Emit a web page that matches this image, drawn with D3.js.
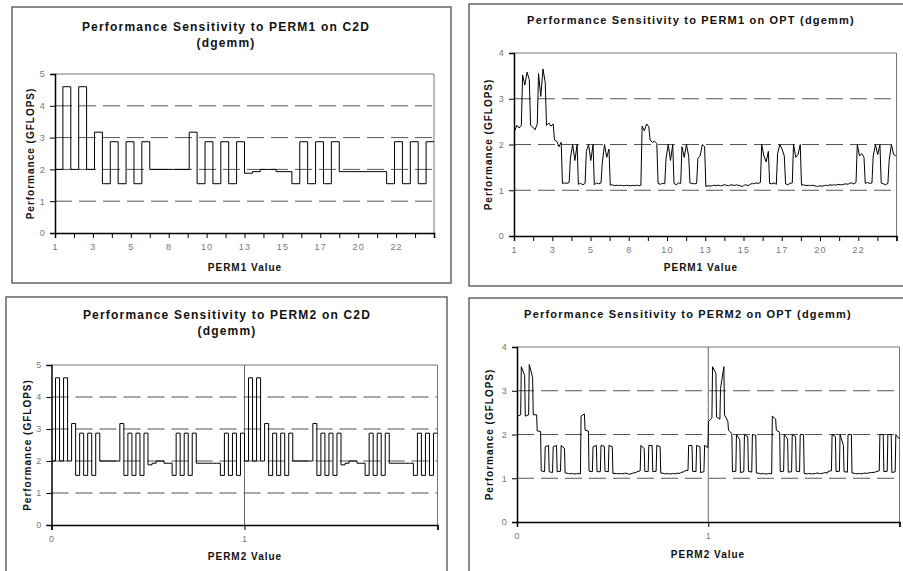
<!DOCTYPE html>
<html>
<head>
<meta charset="utf-8">
<script src="https://cdn.jsdelivr.net/npm/d3@7/dist/d3.min.js"></script>
<style>
body { margin: 0; background: #fff; }
svg { display: block; font-family: "Liberation Sans", Arial, sans-serif; }
.title { font-weight: bold; font-size: 12px; letter-spacing: 1.2px; fill: #111; }
.axis-title { font-weight: bold; font-size: 10px; letter-spacing: 1px; fill: #111; }
.tick text { font-size: 9px; letter-spacing: 1.2px; fill: #777; font-family: "Liberation Sans", Arial, sans-serif; }
</style>
</head>
<body>
<svg id="chart" width="903" height="571"></svg>
<script>
// tick labels
var perm1Labels = ['1', '3', '5', '8', '10', '13', '15', '17', '20', '22'];
var perm2Labels = ['0', '1'];
var c2dTicks = [0, 1, 2, 3, 4, 5];
var optTicks = [0, 1, 2, 3, 4];

// GFLOPS per half block of PERM1 (C2D)
var perm1C2D = [2.0, 4.6, 2.0, 4.6, 2.0, 3.17, 1.55, 2.87, 1.55, 2.87, 1.55, 2.87,
	2.0, 2.0, 2.0, 2.0, 2.0, 3.17, 1.55, 2.87, 1.55, 2.87, 1.55, 2.87,
	1.88, 1.93, 2.0, 2.0, 1.93, 1.93, 1.55, 2.87, 1.55, 2.87, 1.55, 2.87,
	1.93, 1.93, 1.93, 1.93, 1.93, 1.93, 1.55, 2.87, 1.55, 2.87, 1.55, 2.87];

// GFLOPS, 4 samples per half block of PERM1 (OPT)
var perm1OPT = [
	2.30, 2.42, 2.36, 2.42,  3.52, 3.30, 3.58, 3.42,  2.42, 2.38, 2.32, 2.45,  3.55, 3.05, 3.65, 3.35,
	2.42, 2.47, 2.40, 2.45,  2.10, 2.07, 1.95, 2.05,  1.15, 1.16, 1.15, 1.17,  1.70, 2.00, 1.65, 2.00,
	1.13, 1.15, 1.12, 1.15,  1.85, 2.00, 1.65, 2.00,  1.12, 1.16, 1.14, 1.16,  1.60, 2.00, 1.72, 1.90,
	1.11, 1.12, 1.10, 1.11,  1.10, 1.11, 1.10, 1.10,  1.11, 1.10, 1.10, 1.11,  1.10, 1.11, 1.10, 1.11,
	2.40, 2.30, 2.45, 2.38,  2.10, 2.05, 2.07, 2.02,  1.15, 1.13, 1.15, 1.14,  1.70, 2.00, 1.65, 2.00,
	1.15, 1.12, 1.16, 1.15,  1.95, 1.72, 2.00, 1.75,  1.16, 1.15, 1.14, 1.15,  1.70, 1.75, 2.00, 1.95,
	1.08, 1.10, 1.09, 1.10,  1.11, 1.10, 1.11, 1.10,  1.10, 1.12, 1.11, 1.10,  1.11, 1.12, 1.10, 1.12,
	1.11, 1.10, 1.08, 1.11,  1.12, 1.10, 1.13, 1.15,  1.14, 1.16, 1.15, 1.17,  2.00, 1.75, 1.62, 1.85,
	1.15, 1.14, 1.16, 1.13,  1.80, 2.00, 1.90, 1.75,  1.14, 1.12, 1.15, 1.16,  2.00, 1.72, 1.78, 2.00,
	1.11, 1.12, 1.10, 1.11,  1.10, 1.11, 1.10, 1.09,  1.08, 1.10, 1.09, 1.10,  1.11, 1.10, 1.12, 1.11,
	1.12, 1.11, 1.13, 1.12,  1.12, 1.13, 1.14, 1.13,  1.15, 1.16, 1.14, 1.17,  2.00, 1.75, 1.80, 1.72,
	1.15, 1.17, 1.15, 1.16,  1.75, 2.00, 1.78, 2.00,  1.16, 1.14, 1.12, 1.15,  1.65, 2.00, 1.78, 1.75];

// GFLOPS per step along PERM2 (C2D), PERM2 = 0 then PERM2 = 1
var perm2C2D = [2.0, 4.6, 2.0, 4.6, 2.0, 3.17, 1.55, 2.87, 1.55, 2.87, 1.55, 2.87,
	2.0, 2.0, 2.0, 2.0, 2.0, 3.17, 1.55, 2.87, 1.55, 2.87, 1.55, 2.87,
	1.88, 1.93, 2.0, 2.0, 1.93, 1.93, 1.55, 2.87, 1.55, 2.87, 1.55, 2.87,
	1.93, 1.93, 1.93, 1.93, 1.93, 1.93, 1.55, 2.87, 1.55, 2.87, 1.55, 2.87,
	2.0, 4.6, 2.0, 4.6, 2.0, 3.17, 1.55, 2.87, 1.55, 2.87, 1.55, 2.87,
	2.0, 2.0, 2.0, 2.0, 2.0, 3.17, 1.55, 2.87, 1.55, 2.87, 1.55, 2.87,
	1.88, 1.93, 2.0, 2.0, 1.93, 1.93, 1.55, 2.87, 1.55, 2.87, 1.55, 2.87,
	1.93, 1.93, 1.93, 1.93, 1.93, 1.93, 1.55, 2.87, 1.55, 2.87, 1.55, 2.87];

// GFLOPS, 2 samples per step along PERM2 (OPT)
var perm2OPT = [
	2.42, 2.45,  3.55, 3.35,  2.42, 2.45,  3.60, 3.30,  2.45, 2.45,  2.08, 2.07,  1.17, 1.15,  1.72, 1.75,
	1.15, 1.13,  1.72, 1.75,  1.15, 1.16,  1.75, 1.68,  1.12, 1.11,  1.10, 1.11,  1.10, 1.10,  1.11, 1.10,
	2.42, 2.47,  2.10, 2.08,  1.16, 1.15,  1.72, 1.75,  1.15, 1.15,  1.75, 1.73,  1.16, 1.15,  1.75, 1.72,
	1.11, 1.11,  1.10, 1.11,  1.10, 1.11,  1.12, 1.10,  1.09, 1.11,  1.12, 1.13,  1.15, 1.17,  1.75, 1.68,
	1.16, 1.15,  1.75, 1.75,  1.15, 1.16,  1.75, 1.72,  1.12, 1.11,  1.10, 1.11,  1.10, 1.10,  1.11, 1.10,
	1.12, 1.11,  1.13, 1.15,  1.17, 1.18,  1.75, 1.75,  1.16, 1.15,  1.75, 1.72,  1.13, 1.15,  1.75, 1.70,
	2.30, 2.38,  3.55, 3.40,  2.40, 2.35,  3.05, 3.55,  2.45, 2.30,  2.10, 2.02,  1.15, 1.16,  2.00, 1.88,
	1.13, 1.15,  2.00, 1.95,  1.16, 1.14,  2.00, 1.98,  1.12, 1.11,  1.10, 1.11,  1.10, 1.10,  1.11, 1.10,
	2.42, 2.35,  2.10, 2.05,  1.15, 1.16,  2.00, 1.90,  1.14, 1.15,  2.00, 1.95,  1.16, 1.15,  2.00, 2.00,
	1.11, 1.10,  1.11, 1.10,  1.10, 1.11,  1.12, 1.11,  1.10, 1.12,  1.13, 1.12,  1.16, 1.17,  2.00, 1.95,
	1.15, 1.16,  2.00, 1.75,  1.15, 1.14,  2.00, 2.00,  1.12, 1.11,  1.10, 1.11,  1.10, 1.11,  1.12, 1.11,
	1.12, 1.13,  1.13, 1.14,  1.15, 1.17,  2.00, 2.00,  1.15, 1.16,  2.00, 2.00,  1.13, 1.15,  2.00, 1.90];

var svg = d3.select('#chart');

var panels = [
	{box: [12, 7, 439, 276], plot: [55, 74, 434, 233], ymax: 5, yTicks: c2dTicks,
		xmax: 24, xTicks: d3.range(0, 24.01, 1.2), labels: perm1Labels, values: perm1C2D, perStep: 1,
		title: ['Performance Sensitivity to PERM1 on C2D', '(dgemm)'], titleX: 226, titleY: 31,
		xTitle: 'PERM1 Value', xTitleX: 245, xTitleY: 271, yTitleX: 30},
	{box: [469, 4, 460, 282], plot: [514, 53, 896.5, 236], ymax: 4, yTicks: optTicks,
		xmax: 24, xTicks: d3.range(0, 24.01, 1.2), labels: perm1Labels, values: perm1OPT, perStep: 4,
		title: ['Performance Sensitivity to PERM1 on OPT (dgemm)'], titleX: 691, titleY: 24, titleSize: 11,
		xTitle: 'PERM1 Value', xTitleX: 701, xTitleY: 271, yTitleX: 488},
	{box: [6, 297, 441, 290], plot: [51.5, 365, 437.5, 525], ymax: 5, yTicks: c2dTicks,
		xmax: 2, xTicks: [0, 1, 2], labels: perm2Labels, values: perm2C2D, perStep: 1, midLine: true,
		title: ['Performance Sensitivity to PERM2 on C2D', '(dgemm)'], titleX: 227, titleY: 319,
		xTitle: 'PERM2 Value', xTitleX: 245, xTitleY: 560, yTitleX: 27},
	{box: [469, 298, 460, 290], plot: [517, 347, 899.5, 522], ymax: 4, yTicks: optTicks,
		xmax: 2, xTicks: [0, 1, 2], labels: perm2Labels, values: perm2OPT, perStep: 2, midLine: true,
		title: ['Performance Sensitivity to PERM2 on OPT (dgemm)'], titleX: 688, titleY: 318, titleSize: 11,
		xTitle: 'PERM2 Value', xTitleX: 708, xTitleY: 558, yTitleX: 489}
];

var drawPanel = function (p) {
	var g = svg.append('g');
	var left = p.plot[0], top = p.plot[1], right = p.plot[2], bottom = p.plot[3];

	g.append('rect')
		.attr('x', p.box[0]).attr('y', p.box[1])
		.attr('width', p.box[2]).attr('height', p.box[3])
		.attr('fill', 'none').attr('stroke', '#666').attr('stroke-width', 1.5);

	var x = d3.scaleLinear().domain([0, p.xmax]).range([left, right]);
	var y = d3.scaleLinear().domain([0, p.ymax]).range([bottom, top]);

	// plot area frame (top / right)
	g.append('path')
		.attr('d', 'M' + left + ',' + top + 'H' + right + 'V' + bottom)
		.attr('fill', 'none').attr('stroke', '#777').attr('stroke-width', 1);

	// dashed gridlines
	g.selectAll('line.grid')
		.data(p.yTicks.filter(function (t) { return t > 0 && t < p.ymax; }))
		.enter()
			.append('line')
			.attr('x1', left).attr('x2', right)
			.attr('y1', function (d) { return y(d); })
			.attr('y2', function (d) { return y(d); })
			.attr('stroke', '#555').attr('stroke-width', 1)
			.attr('stroke-dasharray', '17,7');

	if (p.midLine) {
		g.append('line')
			.attr('x1', x(1)).attr('x2', x(1))
			.attr('y1', top).attr('y2', bottom)
			.attr('stroke', '#444').attr('stroke-width', 0.8);
	}

	// series: each step holds perStep samples spread across its width
	var steps = p.values.length / p.perStep;
	var w = p.xmax / steps;
	var pts = p.values.map(function (v, i) {
		var k = Math.floor(i / p.perStep), j = i % p.perStep;
		var f = p.perStep > 1 ? 0.08 + 0.84 * j / (p.perStep - 1) : 0;
		return [k * w + f * w, v];
	});
	if (p.perStep === 1) {
		pts.push([p.xmax, p.values[p.values.length - 1]]);
	}
	var line = d3.line()
		.x(function (d) { return x(d[0]); })
		.y(function (d) { return y(d[1]); })
		.curve(p.perStep === 1 ? d3.curveStepAfter : d3.curveLinear);
	g.append('path')
		.datum(pts)
		.attr('d', line)
		.attr('fill', 'none').attr('stroke', '#000').attr('stroke-width', 1);

	// axes
	var yAxis = d3.axisLeft(y).tickValues(p.yTicks).tickSize(5).tickPadding(4).tickFormat(d3.format('d'));
	var gy = g.append('g').attr('transform', 'translate(' + left + ',0)').call(yAxis);

	var xAxis = d3.axisBottom(x).tickValues(p.xTicks).tickSize(5).tickPadding(6)
		.tickFormat(function (d, i) {
			if (p.xmax === 2) {
				return p.labels[i] !== undefined ? p.labels[i] : '';
			}
			return (i % 2 === 0 && p.labels[i / 2] !== undefined) ? p.labels[i / 2] : '';
		});
	var gx = g.append('g').attr('transform', 'translate(0,' + bottom + ')').call(xAxis);

	[gx, gy].forEach(function (a) {
		a.select('.domain').attr('stroke', '#000').attr('stroke-width', 1.5);
		a.selectAll('.tick line').attr('stroke', '#000').attr('stroke-width', 1);
	});

	// titles
	var t = g.append('text').attr('class', 'title')
		.attr('text-anchor', 'middle')
		.style('font-size', (p.titleSize || 12) + 'px');
	p.title.forEach(function (s, i) {
		t.append('tspan').attr('x', p.titleX).attr('y', p.titleY + i * 16).text(s);
	});

	g.append('text').attr('class', 'axis-title')
		.attr('text-anchor', 'middle')
		.attr('x', p.xTitleX).attr('y', p.xTitleY)
		.text(p.xTitle);

	g.append('text').attr('class', 'axis-title')
		.attr('text-anchor', 'middle')
		.attr('transform', 'translate(' + p.yTitleX + ',' + ((top + bottom) / 2) + ') rotate(-90)')
		.attr('dy', '0.35em')
		.text('Performance (GFLOPS)');
};

panels.forEach(drawPanel);
</script>
</body>
</html>
